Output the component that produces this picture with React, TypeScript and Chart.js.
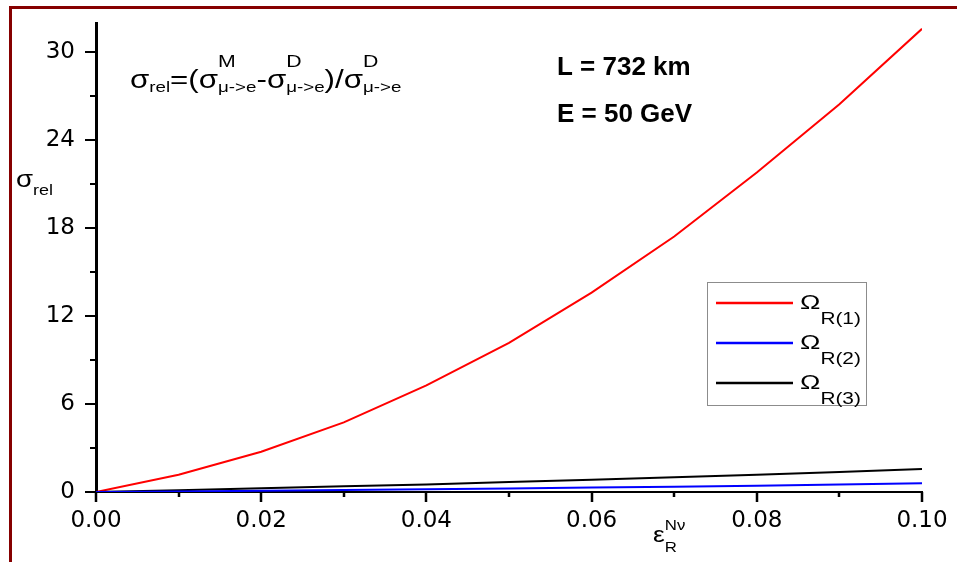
import React, { useEffect, useRef } from 'react';
import { Chart, registerables } from 'chart.js';

Chart.register(...registerables);

// ---- data ----
const xValues = [0, 0.01, 0.02, 0.03, 0.04, 0.05, 0.06, 0.07, 0.08, 0.09, 0.1];
const omegaR1 = [0, 1.18, 2.75, 4.75, 7.28, 10.18, 13.6, 17.43, 21.8, 26.45, 31.6];
const omegaR2 = [0, 0.04, 0.08, 0.13, 0.18, 0.24, 0.3, 0.36, 0.43, 0.51, 0.59];
const omegaR3 = [0, 0.12, 0.26, 0.4, 0.52, 0.68, 0.84, 1.0, 1.18, 1.37, 1.57];
const seriesSubs = ['R(1)', 'R(2)', 'R(3)'];
const seriesColors = ['#ff0000', '#0000ff', '#000000'];
const xTickLabels = ['0.00', '0.02', '0.04', '0.06', '0.08', '0.10'];
const xMajorTicks = [0, 0.02, 0.04, 0.06, 0.08, 0.1];
const xMinorTicks = [0.01, 0.03, 0.05, 0.07, 0.09];
const yTickLabels = ['0', '6', '12', '18', '24', '30'];
const yMajorTicks = [0, 6, 12, 18, 24, 30];
const yMinorTicks = [3, 9, 15, 21, 27];

type Seg = { t: string; s: number; dy?: number; bold?: boolean } | { stack: { t: string; s: number; dy: number }[] };

const FONT = '"Liberation Sans", Arial, sans-serif';

function drawRich(ctx: CanvasRenderingContext2D, x: number, y: number, segs: Seg[], sx: number) {
  ctx.save();
  ctx.translate(x, y);
  ctx.scale(sx, 1);
  ctx.fillStyle = '#000';
  ctx.textBaseline = 'alphabetic';
  ctx.textAlign = 'left';
  let cx = 0;
  for (const seg of segs) {
    if ('stack' in seg) {
      let w = 0;
      for (const p of seg.stack) {
        ctx.font = `${p.s}px ${FONT}`;
        ctx.fillText(p.t, cx, p.dy);
        w = Math.max(w, ctx.measureText(p.t).width);
      }
      cx += w;
    } else {
      ctx.font = `${seg.bold ? 'bold ' : ''}${seg.s}px ${FONT}`;
      ctx.fillText(seg.t, cx, seg.dy || 0);
      cx += ctx.measureText(seg.t).width;
    }
  }
  ctx.restore();
}

const decorPlugin = {
  id: 'decor',
  beforeDraw(chart: any) {
    const ctx = chart.ctx;
    ctx.save();
    ctx.fillStyle = '#ffffff';
    ctx.fillRect(0, 0, chart.width, chart.height);
    ctx.restore();
  },
  afterDraw(chart: any) {
    const ctx: CanvasRenderingContext2D = chart.ctx;
    const xs = chart.scales.x;
    const ys = chart.scales.y;
    const area = chart.chartArea;
    ctx.save();
    // frame
    ctx.strokeStyle = '#860000';
    ctx.lineWidth = 3;
    ctx.beginPath();
    ctx.moveTo(10.5, 6);
    ctx.lineTo(10.5, chart.height);
    ctx.moveTo(9, 7.5);
    ctx.lineTo(chart.width, 7.5);
    ctx.stroke();

    // ticks
    ctx.strokeStyle = '#000';
    ctx.lineWidth = 2.5;
    ctx.beginPath();
    for (const v of xMajorTicks) {
      const px = Math.round(xs.getPixelForValue(v));
      ctx.moveTo(px, area.bottom);
      ctx.lineTo(px, area.bottom + 10);
    }
    for (const v of xMinorTicks) {
      const px = Math.round(xs.getPixelForValue(v));
      ctx.moveTo(px, area.bottom);
      ctx.lineTo(px, area.bottom + 5);
    }
    ctx.stroke();
    ctx.lineWidth = 2;
    ctx.beginPath();
    for (const v of yMajorTicks) {
      const py = Math.round(ys.getPixelForValue(v));
      ctx.moveTo(area.left - 11, py);
      ctx.lineTo(area.left, py);
    }
    for (const v of yMinorTicks) {
      const py = Math.round(ys.getPixelForValue(v));
      ctx.moveTo(area.left - 6, py);
      ctx.lineTo(area.left, py);
    }
    ctx.stroke();

    // formula
    drawRich(ctx, 130, 88, [
      { t: 'σ', s: 25 },
      { t: 'rel', s: 15, dy: 4 },
      { t: '=(σ', s: 25 },
      { stack: [{ t: 'M', s: 17, dy: -21 }, { t: 'μ->e', s: 15, dy: 4 }] },
      { t: '-σ', s: 25 },
      { stack: [{ t: 'D', s: 17, dy: -21 }, { t: 'μ->e', s: 15, dy: 4 }] },
      { t: ')/σ', s: 25 },
      { stack: [{ t: 'D', s: 17, dy: -21 }, { t: 'μ->e', s: 15, dy: 4 }] },
    ], 1.25);

    // L and E
    drawRich(ctx, 557, 75, [{ t: 'L = 732 km', s: 26, bold: true }], 1);
    drawRich(ctx, 557, 122, [{ t: 'E = 50 GeV', s: 26, bold: true }], 1);

    // axis titles
    drawRich(ctx, 16, 187, [{ t: 'σ', s: 23 }, { t: 'rel', s: 15, dy: 8 }], 1.2);
    drawRich(ctx, 653, 542, [
      { t: 'ε', s: 22 },
      { stack: [{ t: 'Nν', s: 14, dy: -12 }, { t: 'R', s: 14, dy: 10 }] },
    ], 1.2);

    // legend
    ctx.strokeStyle = '#8c8c8c';
    ctx.lineWidth = 1;
    ctx.strokeRect(707.5, 282.5, 159, 123);
    for (let i = 0; i < seriesSubs.length; i++) {
      const ly = 303 + i * 40;
      ctx.strokeStyle = seriesColors[i];
      ctx.lineWidth = 2.5;
      ctx.beginPath();
      ctx.moveTo(716, ly);
      ctx.lineTo(793, ly);
      ctx.stroke();
      drawRich(ctx, 800, ly + 6, [{ t: 'Ω', s: 21 }, { t: seriesSubs[i], s: 16, dy: 15 }], 1.3);
    }
    ctx.restore();
  },
};

export default function App() {
  const ref = useRef<HTMLCanvasElement | null>(null);
  useEffect(() => {
    if (!ref.current) return;
    const mk = (data: number[], i: number) => ({
      label: 'Ω ' + seriesSubs[i],
      data: xValues.map((x, k) => ({ x, y: data[k] })),
      borderColor: seriesColors[i],
      backgroundColor: seriesColors[i],
      borderWidth: 2,
      pointRadius: 0,
      tension: 0,
      fill: false,
    });
    const zeroPad = (s: any) => {
      s.paddingTop = 0;
      s.paddingBottom = 0;
      s.paddingLeft = 0;
      s.paddingRight = 0;
    };
    const chart = new Chart(ref.current, {
      type: 'line',
      data: {
        datasets: [mk(omegaR2, 1), mk(omegaR3, 2), mk(omegaR1, 0)],
      },
      options: {
        animation: false,
        responsive: true,
        maintainAspectRatio: false,
        layout: { padding: { top: 23, right: 35, left: 0, bottom: 0 } },
        plugins: { legend: { display: false }, tooltip: { enabled: false } },
        scales: {
          x: {
            type: 'linear',
            min: 0,
            max: 0.1,
            afterFit: (s: any) => { s.height = 70; zeroPad(s); },
            afterBuildTicks: (s: any) => { s.ticks = xMajorTicks.map((v) => ({ value: v })); },
            grid: { display: false, drawTicks: false, tickLength: 0 },
            border: { display: true, color: '#000', width: 2 },
            ticks: {
              padding: 15,
              color: '#000',
              maxRotation: 0,
              autoSkip: false,
              font: { family: '"DejaVu Sans", sans-serif', size: 23 },
              callback: (_v: any, i: number) => xTickLabels[i],
            },
          },
          y: {
            type: 'linear',
            min: 0,
            max: 32,
            afterFit: (s: any) => { s.width = 96; zeroPad(s); },
            afterBuildTicks: (s: any) => { s.ticks = yMajorTicks.map((v) => ({ value: v })); },
            grid: { display: false, drawTicks: false, tickLength: 0 },
            border: { display: true, color: '#000', width: 3 },
            ticks: {
              padding: 21,
              color: '#000',
              autoSkip: false,
              font: { family: '"DejaVu Sans", sans-serif', size: 23 },
              callback: (_v: any, i: number) => yTickLabels[i],
            },
          },
        },
      },
      plugins: [decorPlugin],
    });
    return () => chart.destroy();
  }, []);
  return (
    <div style={{ position: 'fixed', left: 0, top: 0, width: 957, height: 562 }}>
      <canvas ref={ref} />
    </div>
  );
}
